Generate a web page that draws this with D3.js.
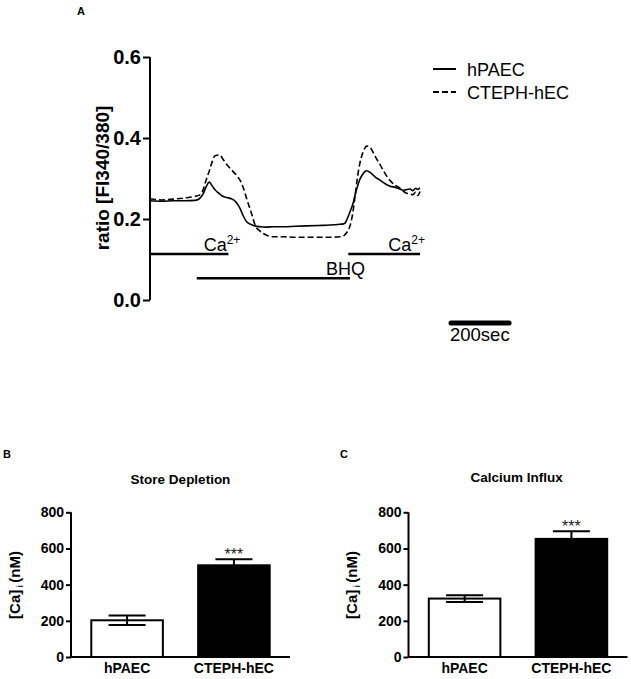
<!DOCTYPE html>
<html><head><meta charset="utf-8">
<script src="https://cdn.jsdelivr.net/npm/d3@7"></script>
<style>
body{margin:0;background:#fff;}
svg{display:block;font-family:"Liberation Sans",Arial,sans-serif;}
</style></head>
<body><svg id="c" width="631" height="679"></svg>
<script>
// ---- Panel A: trace data (time in seconds, ratio F340/380) ----
const timeSec = [0,40,80,120,155,170,183,195,204,215,224,240,251,265,280,293,303,310,321,333,350,362,379,402,424,460,500,540,580,620,654,666,672,679,689,700,706,714,723,732,740,746,758,768,775,792,810,827,845,861,871,880,896,905,915,922,930];
const hPAECRatio = [0.245,0.244,0.245,0.245,0.246,0.25,0.262,0.282,0.291,0.281,0.272,0.262,0.256,0.253,0.25,0.244,0.235,0.226,0.208,0.193,0.186,0.183,0.181,0.18,0.181,0.181,0.182,0.183,0.184,0.185,0.187,0.188,0.19,0.2,0.218,0.24,0.258,0.279,0.298,0.31,0.317,0.319,0.315,0.309,0.304,0.296,0.287,0.281,0.278,0.274,0.271,0.272,0.274,0.27,0.276,0.273,0.277];
const ctephRatio = [0.25,0.247,0.249,0.252,0.256,0.259,0.272,0.3,0.318,0.343,0.356,0.358,0.348,0.334,0.322,0.312,0.303,0.296,0.278,0.25,0.213,0.185,0.17,0.16,0.156,0.156,0.155,0.155,0.155,0.155,0.156,0.158,0.162,0.168,0.183,0.222,0.255,0.3,0.338,0.362,0.375,0.38,0.377,0.365,0.355,0.335,0.312,0.295,0.283,0.276,0.27,0.265,0.262,0.26,0.266,0.258,0.268];
const yTicksA = [0.0,0.2,0.4,0.6];
const seriesNames = ["hPAEC","CTEPH-hEC"];
// protocol bars: label, start, end (s), level (ratio units)
const protoLabels = ["Ca","BHQ","Ca"];
const protoStart = [0,161,683];
const protoEnd = [270,689,930];
const protoLevel = [0.1136,0.0536,0.1136];
const scaleBarSec = 200;

// ---- Panels B and C: bar data ----
const categories = ["hPAEC","CTEPH-hEC"];
const storeMean = [203,507];
const storeSem = [26,34];
const influxMean = [323,653];
const influxSem = [19,42];
const yTicksBar = [0,200,400,600,800];

const svg = d3.select("#c");
const FONT = '"Liberation Sans",Arial,sans-serif';

// ===== Panel A =====
const xA = d3.scaleLinear().domain([0,930]).range([150,420]);
const yA = d3.scaleLinear().domain([0,0.6]).range([300,57]);

svg.append("text").attr("x",77).attr("y",15).attr("font-weight","bold").attr("font-size",11).text("A");

const axA = svg.append("g").attr("transform","translate(150,0)")
  .call(d3.axisLeft(yA).tickValues(yTicksA).tickFormat(d3.format(".1f")).tickSize(7).tickPadding(2));
axA.select(".domain").attr("stroke-width",2).attr("d","M0,57V300");
axA.selectAll(".tick line").attr("stroke-width",2);
axA.selectAll(".tick text").attr("font-size",20).attr("font-weight","bold").attr("font-family",FONT).attr("fill","#000");

svg.append("text").attr("transform","translate(109,178) rotate(-90)")
  .attr("text-anchor","middle").attr("font-size",19).attr("font-weight","bold").text("ratio [FI340/380]");

const line = d3.line().x((d,i)=>xA(timeSec[i])).y(d=>yA(d)).curve(d3.curveMonotoneX);
svg.append("path").attr("d",line(hPAECRatio)).attr("fill","none").attr("stroke","#000").attr("stroke-width",1.6);
svg.append("path").attr("d",line(ctephRatio)).attr("fill","none").attr("stroke","#000").attr("stroke-width",1.6).attr("stroke-dasharray","6,3");

// protocol bars
protoLabels.forEach((lab,i)=>{
  svg.append("line").attr("x1",xA(protoStart[i])).attr("x2",xA(protoEnd[i]))
    .attr("y1",yA(protoLevel[i])).attr("y2",yA(protoLevel[i])).attr("stroke","#000").attr("stroke-width",2.5);
  const t = svg.append("text").attr("font-size",18).attr("text-anchor","end")
    .attr("x", i===1 ? xA(protoEnd[i])+15 : xA(protoEnd[i])+ (i===0?12:5))
    .attr("y", yA(protoLevel[i])-3);
  if(lab==="Ca"){
    t.append("tspan").text("Ca");
    t.append("tspan").attr("font-size",12).attr("dy",-7).text("2+");
  } else t.text(lab);
});

// legend
seriesNames.forEach((n,i)=>{
  const y = 69 + i*23;
  svg.append("line").attr("x1",433).attr("x2",456).attr("y1",y).attr("y2",y)
    .attr("stroke","#000").attr("stroke-width",2).attr("stroke-dasharray", i===1?"6,3":null);
  svg.append("text").attr("x",467).attr("y",y+6.5).attr("font-size",18).text(n);
});

// scale bar
svg.append("line").attr("x1",451).attr("x2",451+xA(scaleBarSec)-xA(0)).attr("y1",323).attr("y2",323)
  .attr("stroke","#000").attr("stroke-width",5).attr("stroke-linecap","round");
svg.append("text").attr("x",450).attr("y",341).attr("font-size",18.5).text(scaleBarSec+"sec");

// ===== Bar panels =====
function barPanel(opt){
  const g = svg.append("g");
  g.append("text").attr("x",opt.labX).attr("y",458).attr("font-weight","bold").attr("font-size",11).text(opt.letter);
  g.append("text").attr("x",opt.titleX).attr("y",opt.titleY).attr("text-anchor","middle")
    .attr("font-weight","bold").attr("font-size",13.5).text(opt.title);
  const y = d3.scaleLinear().domain([0,800]).range([657,512.3]);
  const x = d3.scaleBand().domain(categories).range([opt.x0, opt.x0+219]).paddingInner(0.33).paddingOuter(0.19);
  // bars
  categories.forEach((c,i)=>{
    const bx = x(c), bw = x.bandwidth(), cx = bx+bw/2;
    const m = opt.mean[i], s = opt.sem[i];
    g.append("line").attr("x1",cx).attr("x2",cx).attr("y1",y(m-s)).attr("y2",y(m+s)).attr("stroke","#000").attr("stroke-width",2);
    g.append("line").attr("x1",cx-18.5).attr("x2",cx+18.5).attr("y1",y(m+s)).attr("y2",y(m+s)).attr("stroke","#000").attr("stroke-width",2);
    if(i===0) g.append("line").attr("x1",cx-18.5).attr("x2",cx+18.5).attr("y1",y(m-s)).attr("y2",y(m-s)).attr("stroke","#000").attr("stroke-width",2);
    g.append("rect").attr("x",bx).attr("y",y(m)).attr("width",bw).attr("height",y(0)-y(m))
      .attr("fill", i===0?"none":"#000").attr("stroke","#000").attr("stroke-width",2);
    if(i===1) g.append("text").attr("x",cx).attr("y",y(m+s)+1).attr("text-anchor","middle").attr("font-size",16).attr("fill","#222").text("***");
  });
  const ay = g.append("g").attr("transform",`translate(${opt.x0},0)`)
    .call(d3.axisLeft(y).tickValues(yTicksBar).tickSize(5).tickPadding(2));
  ay.select(".domain").attr("stroke-width",2).attr("d","M0,512.3V657");
  ay.selectAll(".tick line").attr("stroke-width",2);
  ay.selectAll(".tick text").attr("font-size",14).attr("font-weight","bold").attr("font-family",FONT).attr("fill","#000");
  const ax = g.append("g").attr("transform","translate(0,657)")
    .call(d3.axisBottom(x).tickSize(0).tickPadding(6));
  ax.select(".domain").attr("stroke-width",2).attr("d",`M${opt.x0},0H${opt.x0+219}`);
  ax.selectAll(".tick text").attr("font-size",14).attr("font-weight","bold").attr("font-family",FONT).attr("fill","#000");
  const t = g.append("text").attr("transform",`translate(${opt.ytX},585) rotate(-90)`).attr("text-anchor","middle")
    .attr("font-size",15).attr("font-weight","bold");
  t.append("tspan").text("[Ca]");
  t.append("tspan").attr("font-size",9).attr("font-weight","normal").attr("dy",3).text(" i ");
  t.append("tspan").attr("dy",-3).text("(nM)");
}
barPanel({letter:"B",labX:3,title:"Store Depletion",titleX:180.5,titleY:484,x0:71,mean:storeMean,sem:storeSem,ytX:20});
barPanel({letter:"C",labX:340,title:"Calcium Influx",titleX:516.7,titleY:482,x0:408.5,mean:influxMean,sem:influxSem,ytX:357});
</script></body></html>
